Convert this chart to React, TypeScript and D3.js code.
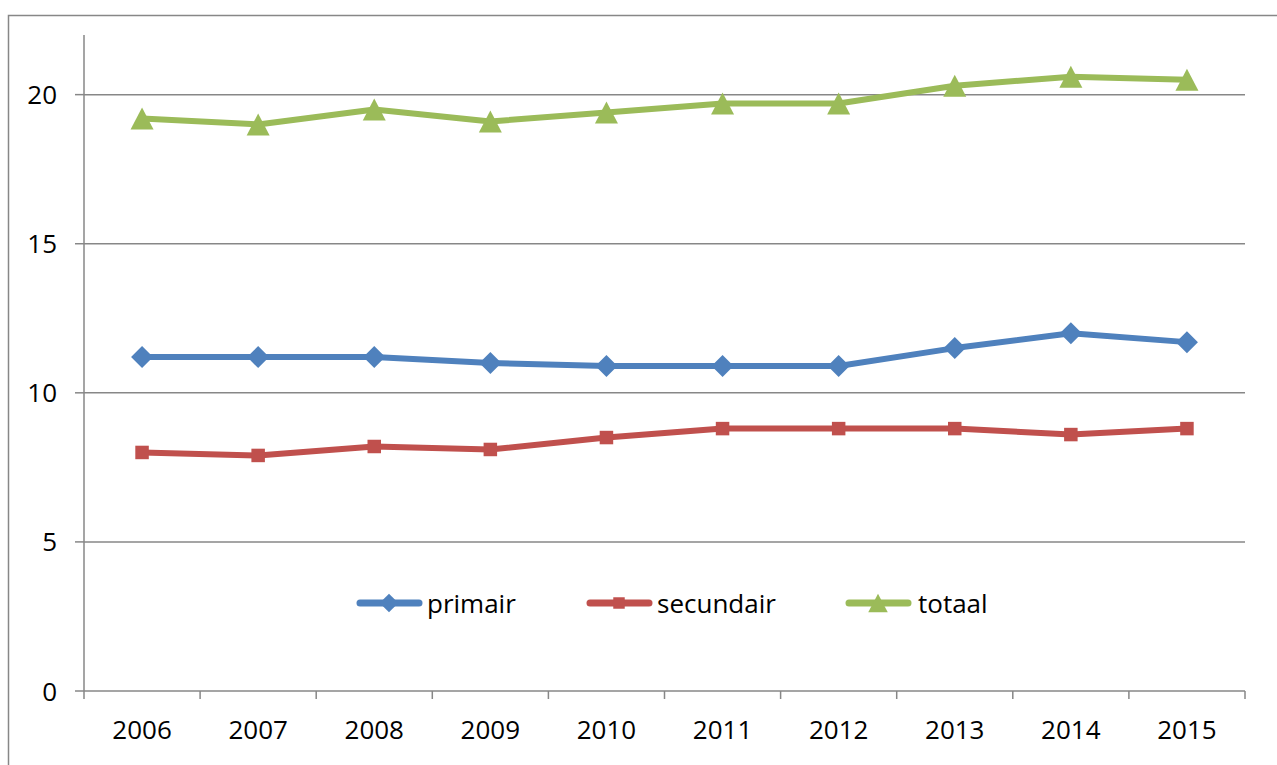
import React from "react";
import * as d3 from "d3";

// Years on the category axis
const years = ["2006", "2007", "2008", "2009", "2010", "2011", "2012", "2013", "2014", "2015"];

// Series values
const primair = [11.2, 11.2, 11.2, 11.0, 10.9, 10.9, 10.9, 11.5, 12.0, 11.7];
const secundair = [8.0, 7.9, 8.2, 8.1, 8.5, 8.8, 8.8, 8.8, 8.6, 8.8];
const totaal = [19.2, 19.0, 19.5, 19.1, 19.4, 19.7, 19.7, 20.3, 20.6, 20.5];

// Value axis ticks
const yTicks = [0, 5, 10, 15, 20];
const yMax = 22;

const seriesNames = ["primair", "secundair", "totaal"];
const seriesColors = ["#4F81BD", "#C0504D", "#9BBB59"];
const seriesValues = [primair, secundair, totaal];
const markerTypes = ["diamond", "square", "triangle"];

const W = 1277;
const H = 765;
const plot = { left: 84, right: 1245, top: 35, bottom: 691 };
const gridColor = "#878787";
const font = "'Open Sans', sans-serif";

function Marker({ type, x, y, color, scale = 1 }: { type: string; x: number; y: number; color: string; scale?: number }) {
  if (type === "diamond") {
    const r = 11 * scale;
    return <path d={`M${x},${y - r}L${x + r},${y}L${x},${y + r}L${x - r},${y}Z`} fill={color} />;
  }
  if (type === "square") {
    const s = 13.5 * scale;
    return <rect x={x - s / 2} y={y - s / 2} width={s} height={s} fill={color} />;
  }
  const w = 23 * scale;
  const h = 22 * scale;
  return <path d={`M${x},${y - h / 2}L${x + w / 2},${y + h / 2}L${x - w / 2},${y + h / 2}Z`} fill={color} />;
}

export default function App() {
  const x = d3.scaleBand<string>().domain(years).range([plot.left, plot.right]);
  const y = d3.scaleLinear().domain([0, yMax]).range([plot.bottom, plot.top]);
  const cx = (yr: string) => (x(yr) as number) + x.bandwidth() / 2;

  const line = d3
    .line<number>()
    .x((_, i) => cx(years[i]))
    .y((v) => y(v));

  const legendItems = [
    { lineX: 357, textX: 427 },
    { lineX: 587, textX: 657 },
    { lineX: 846, textX: 918 },
  ];
  const legendY = 603;

  return (
    <svg
      width={W}
      height={H}
      style={{ position: "absolute", left: 0, top: 0, background: "#fff" }}
      fontFamily={font}
    >
      <rect x={8.5} y={15.5} width={1400} height={900} fill="#fff" stroke={gridColor} strokeWidth={1.5} />

      {/* horizontal gridlines */}
      {yTicks
        .filter((t) => t > 0)
        .map((t) => (
          <line key={`g${t}`} x1={plot.left} x2={plot.right} y1={y(t)} y2={y(t)} stroke={gridColor} strokeWidth={1.5} />
        ))}

      {/* value axis */}
      <line x1={plot.left} x2={plot.left} y1={plot.top} y2={plot.bottom} stroke={gridColor} strokeWidth={1.5} />
      {yTicks.map((t) => (
        <g key={`y${t}`}>
          <line x1={plot.left - 9} x2={plot.left} y1={y(t)} y2={y(t)} stroke={gridColor} strokeWidth={1.5} />
          <text x={57} y={y(t) + 9.5} textAnchor="end" fontSize={26} fill="#000">
            {t}
          </text>
        </g>
      ))}

      {/* category axis */}
      <line x1={plot.left} x2={plot.right} y1={plot.bottom} y2={plot.bottom} stroke={gridColor} strokeWidth={1.5} />
      {[...years.map((yr) => x(yr) as number), plot.right].map((px, i) => (
        <line key={`xt${i}`} x1={px} x2={px} y1={plot.bottom} y2={plot.bottom + 8} stroke={gridColor} strokeWidth={1.5} />
      ))}
      {years.map((yr) => (
        <text key={`xl${yr}`} x={cx(yr)} y={739} textAnchor="middle" fontSize={26} fill="#000">
          {yr}
        </text>
      ))}

      {/* series */}
      {seriesValues.map((vals, si) => (
        <g key={`s${si}`}>
          <path d={line(vals) ?? ""} fill="none" stroke={seriesColors[si]} strokeWidth={6} strokeLinejoin="round" strokeLinecap="round" />
          {vals.map((v, i) => (
            <Marker key={i} type={markerTypes[si]} x={cx(years[i])} y={y(v)} color={seriesColors[si]} />
          ))}
        </g>
      ))}

      {/* legend */}
      {seriesNames.map((name, si) => {
        const l = legendItems[si];
        return (
          <g key={`lg${name}`}>
            <line x1={l.lineX + 3} x2={l.lineX + 62} y1={legendY} y2={legendY} stroke={seriesColors[si]} strokeWidth={7} strokeLinecap="round" />
            <Marker type={markerTypes[si]} x={l.lineX + 32} y={legendY} color={seriesColors[si]} scale={0.85} />
            <text x={l.textX} y={legendY + 9.5} fontSize={26} fill="#000">
              {name}
            </text>
          </g>
        );
      })}
    </svg>
  );
}
